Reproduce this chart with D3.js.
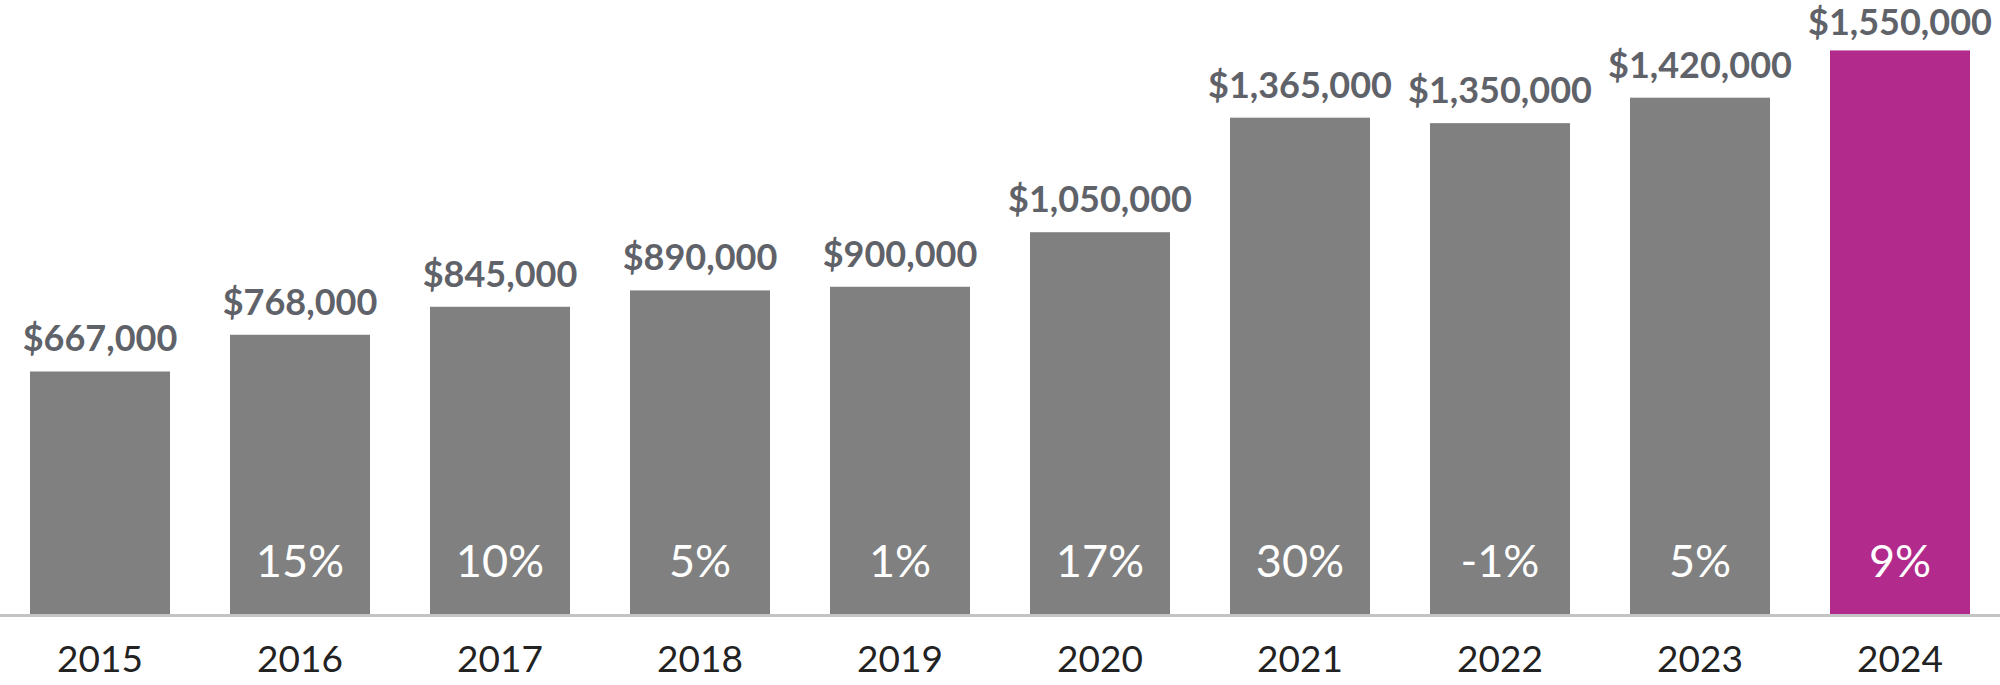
<!DOCTYPE html>
<html>
<head>
<meta charset="utf-8">
<script src="https://cdn.jsdelivr.net/npm/d3@7"></script>
<style>
  html, body { margin: 0; padding: 0; background: #fff; }
  svg { display: block; }
</style>
</head>
<body>
<svg id="chart" width="2000" height="685"></svg>
<script>
const years = ["2015","2016","2017","2018","2019","2020","2021","2022","2023","2024"];
const values = [667000, 768000, 845000, 890000, 900000, 1050000, 1365000, 1350000, 1420000, 1550000];
const changes = ["", "15%", "10%", "5%", "1%", "17%", "30%", "-1%", "5%", "9%"];

const W = 2000, H = 685;
const baseY = 614;
const svg = d3.select("#chart");

const x = d3.scaleBand().domain(years).range([0, W]).paddingInner(0.3).paddingOuter(0.15);
const y = d3.scaleLinear().domain([0, 1000000]).range([baseY, baseY - 363.6]);

const data = years.map((yr, i) => ({ year: yr, value: values[i], change: changes[i], last: i === years.length - 1 }));

svg.selectAll("rect.bar").data(data).enter().append("rect")
  .attr("class", "bar")
  .attr("x", d => x(d.year))
  .attr("width", x.bandwidth())
  .attr("y", d => y(d.value))
  .attr("height", d => baseY - y(d.value))
  .attr("fill", d => d.last ? "#b12a8c" : "#808080");

// baseline
svg.append("line")
  .attr("x1", 0).attr("x2", W)
  .attr("y1", baseY + 1.5).attr("y2", baseY + 1.5)
  .attr("stroke", "#c4c4c4").attr("stroke-width", 3);

const fmt = d3.format("$,");
svg.selectAll("text.val").data(data).enter().append("text")
  .attr("class", "val")
  .attr("x", d => x(d.year) + x.bandwidth() / 2)
  .attr("y", d => Math.max(y(d.value) - 20, 35))
  .attr("text-anchor", "middle")
  .attr("font-family", "Lato, 'Open Sans', sans-serif")
  .attr("font-weight", 700)
  .attr("font-size", 36)
  .attr("fill", "#5f6369")
  .text(d => fmt(d.value));

svg.selectAll("text.pct").data(data.filter(d => d.change)).enter().append("text")
  .attr("class", "pct")
  .attr("x", d => x(d.year) + x.bandwidth() / 2)
  .attr("y", baseY - 37)
  .attr("text-anchor", "middle")
  .attr("font-family", "Lato, 'Open Sans', sans-serif")
  .attr("font-weight", 400)
  .attr("font-size", 45)
  .attr("fill", "#ffffff")
  .text(d => d.change);

const xAxis = d3.axisBottom(x).tickSize(0).tickPadding(0);
const gx = svg.append("g").attr("transform", `translate(0,${baseY})`).call(xAxis);
gx.select(".domain").remove();
gx.selectAll("text")
  .attr("y", 58)
  .attr("dy", 0)
  .attr("font-family", "Lato, 'Open Sans', sans-serif")
  .attr("font-weight", 400)
  .attr("font-size", 37)
  .attr("fill", "#222222");
</script>
</body>
</html>
